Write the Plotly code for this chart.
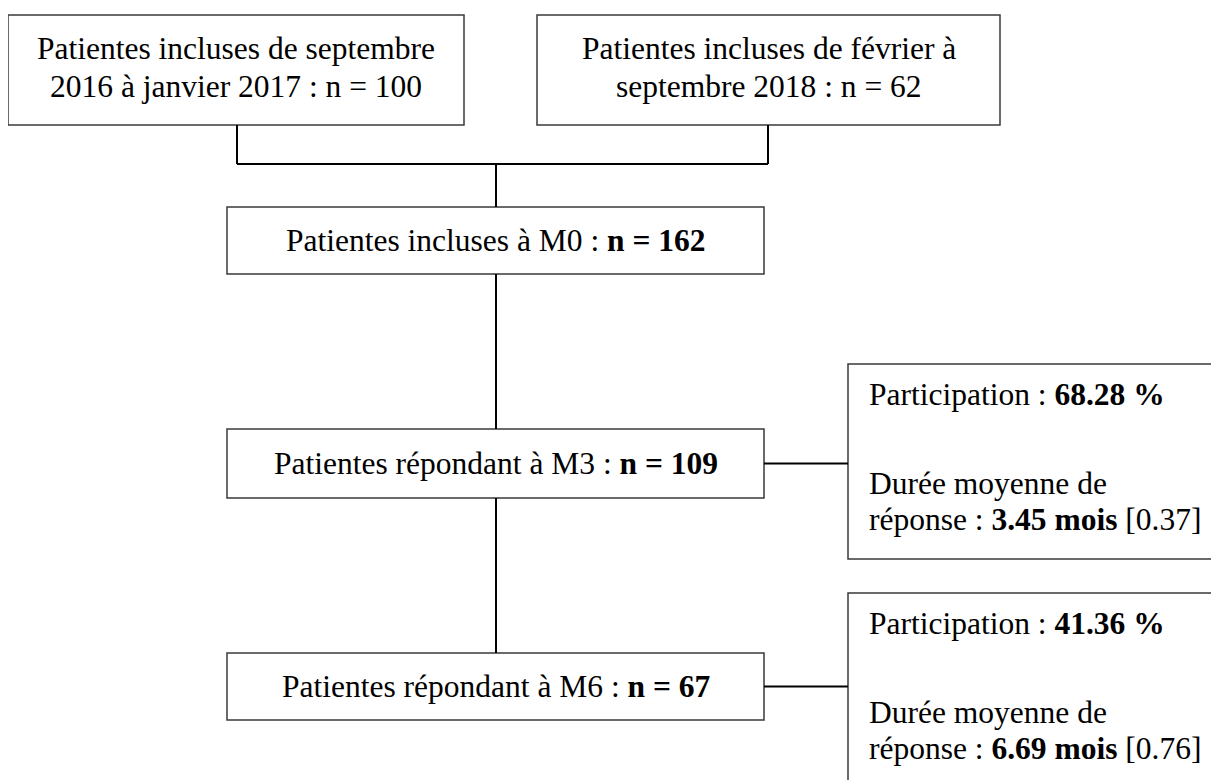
import plotly.graph_objects as go

# ---- data ----
source_periods = ["de septembre<br>2016 à janvier 2017", "de février à<br>septembre 2018"]
source_n = [100, 62]
stage_labels = ["Patientes incluses à M0", "Patientes répondant à M3", "Patientes répondant à M6"]
stage_n = [162, 109, 67]
participation = [68.28, 41.36]          # % for M3, M6
mean_duration = [3.45, 6.69]            # mois
duration_sd = [0.37, 0.76]

FONT = "Liberation Serif, Times New Roman, serif"
FS = 31.5
BORDER = dict(color="#3a3a3a", width=1.5)
LINE = dict(color="black", width=2)

fig = go.Figure()
shapes = []
annotations = []

def rect(x0, y0, x1, y1):
    shapes.append(dict(type="rect", xref="x", yref="y", x0=x0, y0=y0, x1=x1, y1=y1,
                       line=BORDER, fillcolor="white", layer="below"))

def seg(x0, y0, x1, y1):
    shapes.append(dict(type="line", xref="x", yref="y", x0=x0, y0=y0, x1=x1, y1=y1, line=LINE))

def text(x, y, s, anchor="center"):
    annotations.append(dict(x=x, y=y, xref="x", yref="y", text=s, showarrow=False,
                            xanchor=anchor, yanchor="middle", align=anchor if anchor != "center" else "center",
                            font=dict(family=FONT, size=FS, color="black")))

# top source boxes
src_boxes = [(8, 15, 464, 125), (537, 15, 1000, 125)]
src_conn_x = [237, 768]
for (x0, y0, x1, y1), per, n in zip(src_boxes, source_periods, source_n):
    rect(x0, y0, x1, y1)
    l1, l2 = per.split("<br>")
    cx = (x0 + x1) / 2
    text(cx, 48, f"Patientes incluses {l1}")
    text(cx, 86, f"{l2} : n = {n}")

for cx in src_conn_x:
    seg(cx, 125, cx, 164)
seg(src_conn_x[0], 164, src_conn_x[1], 164)

# main stage boxes
MX0, MX1 = 227, 764
MCX = 496
stage_y = [(207, 274), (429, 498), (653, 720)]
seg(MCX, 164, MCX, stage_y[0][0])
for i, ((y0, y1), lab, n) in enumerate(zip(stage_y, stage_labels, stage_n)):
    rect(MX0, y0, MX1, y1)
    text((MX0 + MX1) / 2, (y0 + y1) / 2, f"{lab} : <b>n = {n}</b>")
    if i + 1 < len(stage_y):
        seg(MCX, y1, MCX, stage_y[i + 1][0])

# side boxes
SX0, SX1 = 848, 1240
side_top = [364, 593]
side_bot = [559, 800]
for i, (p, d, sd) in enumerate(zip(participation, mean_duration, duration_sd)):
    y0 = side_top[i]
    y1 = side_bot[i]
    rect(SX0, y0, SX1, y1)
    cy = (stage_y[i + 1][0] + stage_y[i + 1][1]) / 2
    seg(MX1, cy, SX0, cy)
    text(867, y0 + 30, f"Participation : <b>{p:.2f} %</b>", anchor="left")
    text(867, y0 + 119, "Durée moyenne de", anchor="left")
    text(867, y0 + 155, f"réponse : <b>{d:.2f} mois</b> [{sd:.2f}]", anchor="left")

# page body has an 8px margin: shift the axis ranges so that coordinates map to window pixels
OFF = 8
fig.update_layout(
    width=1219, height=780,
    margin=dict(l=0, r=0, t=0, b=0),
    paper_bgcolor="white", plot_bgcolor="white",
    xaxis=dict(range=[OFF, OFF + 1219], visible=False, fixedrange=True),
    yaxis=dict(range=[OFF + 780, OFF], visible=False, fixedrange=True),
    shapes=shapes, annotations=annotations, showlegend=False,
)
fig.write_html("out.html")
